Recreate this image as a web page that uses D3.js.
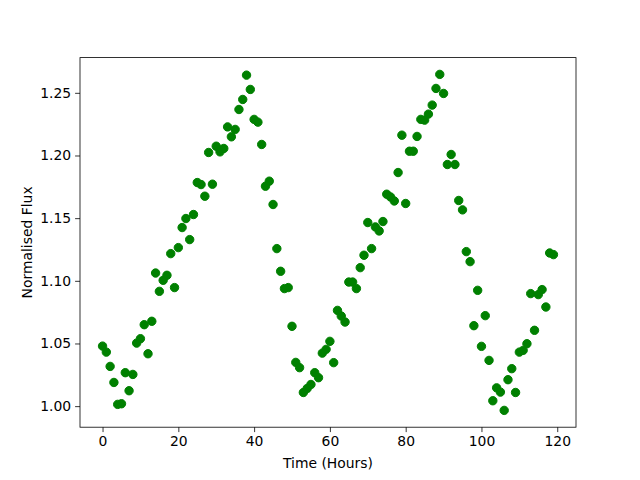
<!DOCTYPE html>
<html>
<head>
<meta charset="utf-8">
<script src="https://cdn.jsdelivr.net/npm/d3@7"></script>
<style>
  body { margin: 0; background: #fff; }
  text { font-family: "DejaVu Sans", sans-serif; }
</style>
</head>
<body>
<div id="chart"></div>
<script>
// hourly flux readings, hour 0..119
const hours = d3.range(0, 120);
const flux = [
  1.0479, 1.0431, 1.0317, 1.0189, 1.0014, 1.0019, 1.0267, 1.0123, 1.0253, 1.0503,
  1.0538, 1.0650, 1.0418, 1.0677, 1.1062, 1.0916, 1.1004, 1.1044, 1.1217, 1.0946,
  1.1265, 1.1425, 1.1497, 1.1329, 1.1529, 1.1784, 1.1768, 1.1675, 1.2024, 1.1771,
  1.2074, 1.2029, 1.2056, 1.2228, 1.2149, 1.2208, 1.2367, 1.2447, 1.2641, 1.2527,
  1.2288, 1.2266, 1.2088, 1.1755, 1.1795, 1.1609, 1.1257, 1.1076, 1.0938, 1.0946,
  1.0637, 1.0349, 1.0307, 1.0109, 1.0141, 1.0173, 1.0267, 1.0227, 1.0423, 1.0453,
  1.0517, 1.0347, 1.0764, 1.0719, 1.0671, 1.0990, 1.0990, 1.0938, 1.1105, 1.1204,
  1.1465, 1.1257, 1.1430, 1.1398, 1.1473, 1.1691, 1.1669, 1.1637, 1.1864, 1.2162,
  1.1617, 1.2034, 1.2034, 1.2152, 1.2288, 1.2282, 1.2330, 1.2402, 1.2535, 1.2647,
  1.2495, 1.1928, 1.2008, 1.1928, 1.1641, 1.1566, 1.1233, 1.1153, 1.0642, 1.0924,
  1.0477, 1.0722, 1.0365, 1.0043, 1.0146, 1.0112, 0.9966, 1.0211, 1.0299, 1.0109,
  1.0431, 1.0445, 1.0498, 1.0898, 1.0605, 1.0890, 1.0930, 1.0791, 1.1222, 1.1209
];
const xTicks = [0, 20, 40, 60, 80, 100, 120];
const yTicks = [1.00, 1.05, 1.10, 1.15, 1.20, 1.25];

const W = 640, H = 480;
const margin = { top: 57.6, right: 64, bottom: 52.8, left: 80 };
const width = W - margin.left - margin.right;
const height = H - margin.top - margin.bottom;

// matplotlib style 5% padding
function padded(ext) {
  const p = (ext[1] - ext[0]) * 0.05;
  return [ext[0] - p, ext[1] + p];
}

const x = d3.scaleLinear().domain(padded(d3.extent(hours))).range([0, width]);
const y = d3.scaleLinear().domain(padded(d3.extent(flux))).range([height, 0]);

const svg = d3.select('#chart')
  .append('svg')
  .attr('width', W)
  .attr('height', H);

const g = svg.append('g')
  .attr('transform', `translate(${margin.left}, ${margin.top})`);

g.append('g')
  .selectAll('circle')
  .data(hours)
  .join('circle')
  .attr('cx', d => x(d))
  .attr('cy', (d, i) => y(flux[i]))
  .attr('r', 4.2)
  .attr('fill', '#008000')
  .attr('stroke', '#008000')
  .attr('stroke-width', 1);

const xAxis = g.append('g')
  .attr('transform', `translate(0, ${height})`)
  .call(d3.axisBottom(x).tickValues(xTicks).tickFormat(d3.format('d')).tickSizeInner(4.9).tickSizeOuter(0).tickPadding(4));

const yAxis = g.append('g')
  .call(d3.axisLeft(y).tickValues(yTicks).tickFormat(d3.format('.2f')).tickSizeInner(4.9).tickSizeOuter(0).tickPadding(4));

[xAxis, yAxis].forEach(a => {
  a.select('.domain').remove();
  a.selectAll('line').attr('stroke', '#000').attr('stroke-width', 0.8);
  a.selectAll('text').attr('font-size', 13.9).attr('fill', '#000')
    .attr('font-family', '"DejaVu Sans", sans-serif');
});

// frame
g.append('rect')
  .attr('width', width)
  .attr('height', height)
  .attr('fill', 'none')
  .attr('stroke', '#000')
  .attr('stroke-width', 0.8);

svg.append('text')
  .attr('x', margin.left + width / 2)
  .attr('y', 468)
  .attr('text-anchor', 'middle')
  .attr('font-size', 13.9)
  .text('Time (Hours)');

svg.append('text')
  .attr('transform', `translate(32, ${margin.top + height / 2}) rotate(-90)`)
  .attr('text-anchor', 'middle')
  .attr('font-size', 13.9)
  .text('Normalised Flux');
</script>
</body>
</html>
